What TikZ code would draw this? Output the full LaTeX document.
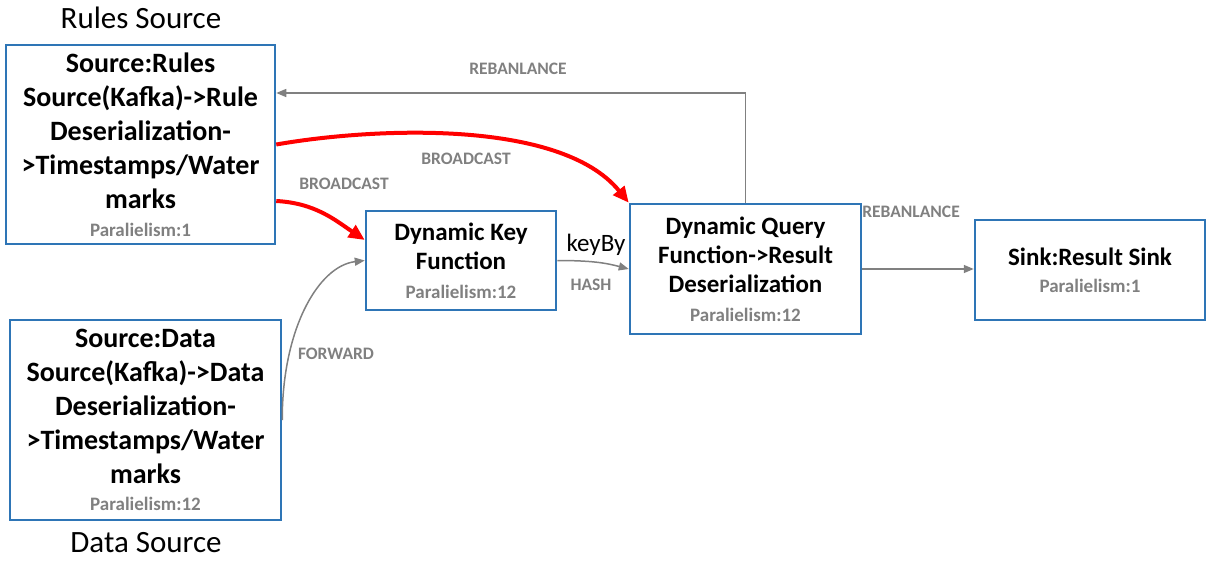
\documentclass[tikz,border=0pt]{standalone}
\usepackage{fontspec}
\setmainfont{Carlito}
\usepackage{xcolor}
\usepackage{tikz}
\usetikzlibrary{arrows.meta,positioning,calc}

\definecolor{boxblue}{HTML}{2E75B6}
\definecolor{flowgray}{HTML}{808080}
\definecolor{bcred}{HTML}{FF0000}

\tikzset{
	opbox/.style={draw=boxblue, line width=2.5pt, align=center, inner sep=0pt},
	flow/.style={draw=flowgray, line width=1.5pt, -{Triangle[length=10pt,width=8pt]}},
	bcast/.style={draw=bcred, line width=4pt, -{Triangle[length=16pt,width=14pt]}},
	elabel/.style={text=flowgray, font=\fontsize{17.5}{17.5}\selectfont\bfseries},
}
\newcommand{\paral}[1]{{\fontsize{19}{19}\selectfont\color{flowgray}Paralielism:#1}}

\begin{document}
\begin{tikzpicture}[x=1pt,y=-1pt]
		\useasboundingbox (0,0) rectangle (1213,563);

		% Operators
		\node[opbox, minimum width=269pt, minimum height=199pt, font=\fontsize{28}{34}\selectfont\bfseries]
			(rules) at (140.5,144.5) {Source:Rules\\Source(Kafka)->Rule\\Deserialization-\\>Timestamps/Water\\marks\\[-6pt]\paral{1}};
		\node[opbox, minimum width=271pt, minimum height=200pt, font=\fontsize{28}{34}\selectfont\bfseries]
			(data) at (145.5,420) {Source:Data\\Source(Kafka)->Data\\Deserialization-\\>Timestamps/Water\\marks\\[-7pt]\paral{12}};
		\node[opbox, minimum width=190pt, minimum height=99pt, font=\fontsize{25}{29}\selectfont\bfseries]
			(key) at (461,260.5) {Dynamic Key\\Function\\\paral{12}};
		\node[opbox, minimum width=231pt, minimum height=130pt, font=\fontsize{25}{29}\selectfont\bfseries]
			(query) at (745.5,269) {Dynamic Query\\Function->Result\\Deserialization\\\paral{12}};
		\node[opbox, minimum width=230pt, minimum height=100pt, font=\fontsize{25}{27}\selectfont\bfseries]
			(sink) at (1090,270) {Sink:Result Sink\\\paral{1}};

		\node[font=\fontsize{31}{31}\selectfont] (rulestitle) at (141,18) {Rules Source};
		\node[font=\fontsize{31}{31}\selectfont] (datatitle) at (146,543) {Data Source};

		% Edges
		\draw[flow] (query.north) |- ([yshift=51.5pt]rules.east);
		\draw[bcast] (rules.east) .. controls (370,128) and (560,118) .. (query.north west);
		\draw[bcast] ([yshift=-56.5pt]rules.east) .. controls (315,203) and (335,220) .. ([yshift=20.5pt]key.west);
		\draw[flow] (data.east) .. controls (282,330) and (318,266) .. (key.west);
		\draw[flow] (key.east) .. controls (592,260.5) and (606,263) .. (query.west);
		\draw[flow] (query.east) -- (query.east -| sink.west);

		\node[elabel] (lreb1) at (518,69) {REBANLANCE};
		\node[elabel] (lbc1) at (466,159) {BROADCAST};
		\node[elabel] (lbc2) at (344,184) {BROADCAST};
		\node[elabel] (lfwd) at (336,354) {FORWARD};
		\node[elabel] (lhash) at (591,285) {HASH};
		\node[elabel] (lreb2) at (911,212) {REBANLANCE};
		\node[font=\fontsize{25}{25}\selectfont] (lkey) at (596,245) {keyBy};
	\end{tikzpicture}
\end{document}
